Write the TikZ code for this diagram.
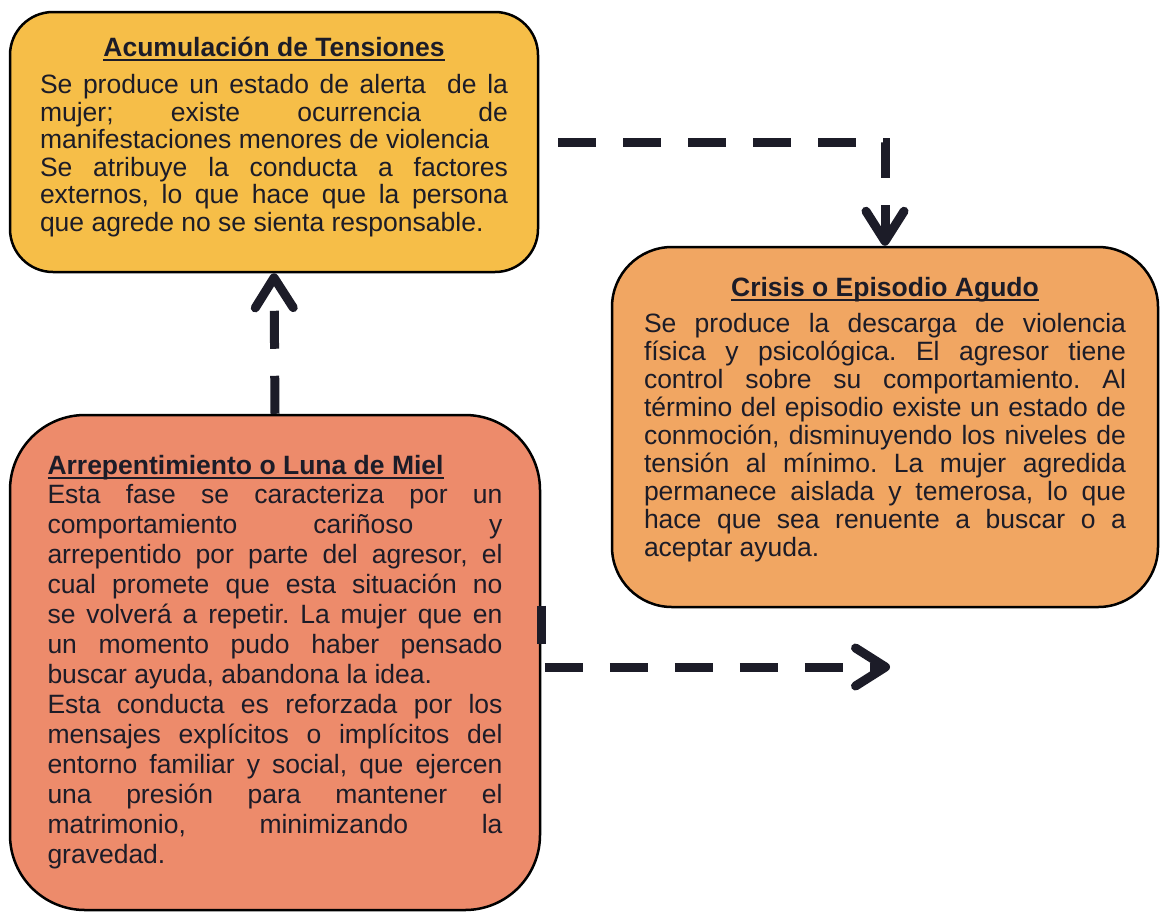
\documentclass[tikz,border=0pt]{standalone}
\usepackage{fontspec}
\setmainfont{Liberation Sans}
\usetikzlibrary{arrows.meta}
\definecolor{amarillo}{RGB}{246,190,72}
\definecolor{naranja}{RGB}{241,166,98}
\definecolor{salmon}{RGB}{237,139,107}
\definecolor{tinta}{RGB}{28,28,40}
\newcommand{\subrayado}[1]{\setbox0=\hbox{\bfseries #1}\rlap{\rule[-4.5pt]{\wd0}{2.2pt}}\box0}
\begin{document}
\begin{tikzpicture}[x=1pt, y=1pt,
    caja/.style={draw=black, line width=2.5pt, text=tinta, align=justify, inner sep=0pt,
      font=\fontsize{26.5pt}{27.3pt}\selectfont\frenchspacing},
    guion/.style={draw=tinta, line width=9pt, dash pattern=on 38pt off 27pt,
      -{Straight Barb[length=30pt, width=38pt, round]}}]
  \useasboundingbox (0,0) rectangle (1161,-914);
  \draw
    (274,-142) node[caja, fill=amarillo, rounded corners=43pt, minimum width=528pt,
      minimum height=260pt, text width=468pt] (tension)
      {\baselineskip=27.5pt
       {\centering\subrayado{Acumulación de Tensiones}\par}\vspace{9.5pt}
       Se produce un estado de alerta\ \ de la\linebreak
       mujer; existe ocurrencia de\linebreak
       manifestaciones menores de violencia\par
       Se atribuye la conducta a factores\linebreak
       externos, lo que hace que la persona\linebreak
       que agrede no se sienta responsable.\par\vspace*{10pt}}
    (885,-427) node[caja, fill=naranja, rounded corners=60pt, minimum width=546pt,
      minimum height=360pt, text width=482pt] (crisis)
      {\baselineskip=28pt
       {\centering\subrayado{Crisis o Episodio Agudo}\par}\vspace{8pt}
       Se produce la descarga de violencia\linebreak
       física y psicológica. El agresor tiene\linebreak
       control sobre su comportamiento. Al\linebreak
       término del episodio existe un estado de\linebreak
       conmoción, disminuyendo los niveles de\linebreak
       tensión al mínimo. La mujer agredida\linebreak
       permanece aislada y temerosa, lo que\linebreak
       hace que sea renuente a buscar o a\linebreak
       aceptar ayuda.\par\vspace*{14pt}}
    (275,-662.5) node[caja, fill=salmon, rounded corners=75pt, minimum width=530pt,
      minimum height=495pt, text width=455pt] (miel)
      {\baselineskip=30pt
       \subrayado{Arrepentimiento o Luna de Miel}\par\vspace{-1pt}
       Esta fase se caracteriza por un\linebreak
       comportamiento cariñoso y\linebreak
       arrepentido por parte del agresor, el\linebreak
       cual promete que esta situación no\linebreak
       se volverá a repetir. La mujer que en\linebreak
       un momento pudo haber pensado\linebreak
       buscar ayuda, abandona la idea.\par
       Esta conducta es reforzada por los\linebreak
       mensajes explícitos o implícitos del\linebreak
       entorno familiar y social, que ejercen\linebreak
       una presión para mantener el\linebreak
       matrimonio, minimizando la\linebreak
       gravedad.\par};
  \coordinate (fin) at (890,-667);
  \draw[guion, dash phase=46pt] (tension.east) -| (crisis.north);
  \draw[guion] (miel.north) -- (tension.south);
  \draw[guion] ([yshift=57pt]miel.east) |- (fin);
\end{tikzpicture}
\end{document}
